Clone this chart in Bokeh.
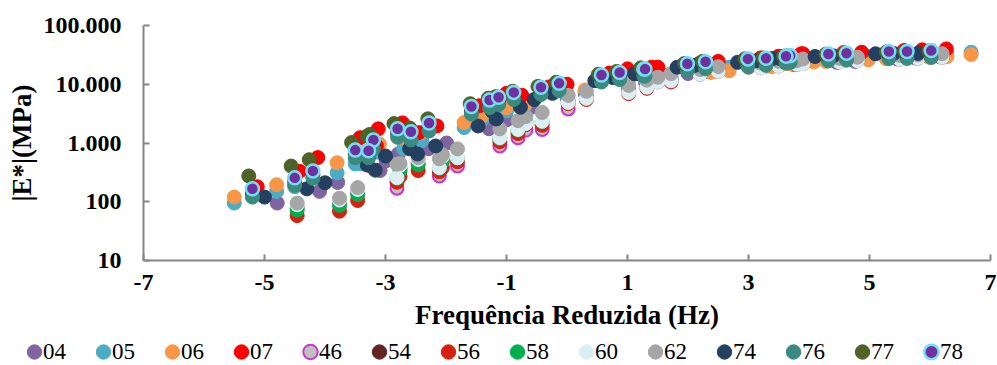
from bokeh.plotting import figure
from bokeh.models import ColumnDataSource, Range1d, FixedTicker, Legend, LegendItem
from bokeh.embed import file_html
from bokeh.resources import INLINE

# ---------------- data ----------------
SERIES = ["04", "05", "06", "07", "46", "54", "56", "58", "60", "62", "74", "76", "77", "78"]

X04 = [-4.79, -4.09, -3.79, -3.09, -2.79, -2.39, -2.99, -2.29, -1.99, -1.29, -0.99, -0.59,
       -0.70, 0.00, 0.30, 1.00, 1.30, 1.70, 1.30, 2.00, 2.30, 3.00, 3.30, 3.70,
       3.76, 4.46, 4.76, 5.46, 5.76, 6.16]
Y04 = [95, 150, 213, 340, 650, 890, 500, 800, 1000, 1750, 2500, 4060,
       3500, 6000, 7000, 10000, 10800, 13000, 10800, 15200, 16500, 19500, 20500, 22500,
       21500, 23600, 24500, 27000, 28000, 29500]

X05 = [-5.50, -4.80, -4.50, -3.80, -3.50, -3.10, -3.40, -2.70, -2.40, -1.70, -1.40, -1.00,
       -0.70, 0.00, 0.30, 1.00, 1.30, 1.70, 1.68, 2.38, 2.68, 3.38, 3.68, 4.08,
       4.28, 4.98, 5.28, 5.98, 6.28, 6.68]
Y05 = [95, 150, 180, 310, 440, 690, 440, 800, 1100, 1830, 2500, 3500,
       4000, 6500, 7500, 11000, 12500, 14500, 14500, 18000, 19500, 23000, 24500, 27000,
       27000, 29500, 30500, 32500, 33000, 35000]

X06 = [-5.50, -4.80, -4.50, -3.80, -3.50, -3.10, -3.40, -2.70, -2.40, -1.70, -1.40, -1.00,
       -0.70, 0.00, 0.30, 1.00, 1.30, 1.70, 1.68, 2.38, 2.68, 3.38, 3.68, 4.08,
       4.28, 4.98, 5.28, 5.98, 6.28, 6.68]
Y06 = [120, 195, 250, 460, 700, 960, 700, 1200, 1500, 2230, 2900, 4000,
       4500, 7000, 8000, 11000, 12000, 13500, 13500, 15900, 17000, 20000, 22200, 24000,
       24500, 26000, 27000, 29000, 29500, 32000]

X07 = [-5.12, -4.42, -4.12, -3.42, -3.12, -2.72, -3.15, -2.45, -2.15, -1.45, -1.15, -0.75,
       -1.00, -0.30, 0.00, 0.70, 1.00, 1.40, 1.50, 2.20, 2.50, 3.20, 3.50, 3.90,
       3.87, 4.57, 4.87, 5.57, 5.87, 6.27]
Y07 = [180, 330, 565, 1230, 1740, 2200, 900, 1500, 1950, 4300, 5500, 6500,
       7000, 9000, 10000, 15500, 18300, 19500, 19500, 23000, 24500, 28000, 30000, 33000,
       33000, 34500, 35000, 37500, 38500, 40000]

X_SOFT = [-4.46, -3.76, -3.46, -2.76, -2.46, -2.06, -2.81, -2.11, -1.81, -1.11, -0.81, -0.41,
          -0.68, 0.02, 0.32, 1.02, 1.32, 1.72, 1.50, 2.20, 2.50, 3.20, 3.50, 3.90,
          3.80, 4.50, 4.80, 5.50, 5.80, 6.20]
Y46 = [79, 95, 145, 372, 468, 525, 170, 275, 407, 891, 1230, 1700,
       1660, 3800, 6300, 8300, 10000, 13200, 11750, 15850, 17780, 20420, 21880, 23990,
       22910, 25120, 26300, 28180, 28840, 30200]
Y56 = [58, 69, 105, 269, 339, 380, 214, 324, 479, 1050, 1445, 2000,
       2040, 4680, 5500, 6920, 8510, 10960, 10960, 14790, 16600, 19050, 20420, 22390,
       21880, 23990, 25120, 26920, 27540, 28840]
Y58 = [72, 87, 132, 339, 427, 479, 250, 372, 550, 1200, 1660, 2290,
       2240, 5130, 6030, 7590, 9330, 12020, 11480, 15490, 17380, 19950, 21380, 23440,
       22390, 24550, 25700, 27540, 28180, 29510]
Y60 = [89, 107, 162, 417, 525, 589, 257, 380, 562, 1230, 1700, 2340,
       2140, 4900, 5750, 7240, 8910, 11480, 10960, 14790, 16600, 19050, 20420, 22390,
       21880, 23990, 25120, 26920, 27540, 28840]
Y62 = [95, 115, 174, 447, 562, 631, 437, 537, 794, 1740, 2400, 3310,
       2820, 6460, 7590, 9550, 11750, 15140, 13180, 17780, 19950, 22910, 24550, 26920,
       25120, 27540, 28840, 30900, 31620, 33110]

X74 = [-5.00, -4.30, -4.00, -3.30, -3.00, -2.60, -3.17, -2.47, -2.17, -1.47, -1.17, -0.77,
       -1.24, -0.54, -0.24, 0.46, 0.76, 1.16, 1.12, 1.82, 2.12, 2.82, 3.12, 3.52,
       3.40, 4.10, 4.40, 5.10, 5.40, 5.80]
Y74 = [120, 166, 210, 420, 600, 800, 345, 650, 890, 1950, 2560, 4060,
       3500, 5500, 7000, 11500, 13000, 15200, 15000, 19500, 21000, 23600, 25000, 27500,
       27500, 29600, 30500, 33000, 33500, 33500]

X78 = [-5.20, -4.50, -4.20, -3.50, -3.20, -2.80, -3.28, -2.58, -2.28, -1.58, -1.28, -0.88,
       -1.13, -0.43, -0.13, 0.57, 0.87, 1.27, 1.29, 1.99, 2.29, 2.99, 3.29, 3.69,
       3.62, 4.32, 4.62, 5.32, 5.62, 6.02]
Y78 = [166, 255, 335, 757, 1122, 1746, 736, 1549, 2190, 4170, 5380, 7270,
       6000, 8900, 10350, 14400, 15900, 18100, 18100, 22300, 24100, 27000, 27700, 30800,
       29900, 32800, 33700, 36000, 36000, 37400]
Y54 = [141, 217, 285, 643, 954, 1484, 626, 1317, 1862, 3545, 4573, 6180,
       5100, 7565, 8800, 12240, 13500, 15400, 15400, 18950, 20500, 22950, 23550, 26200,
       25400, 27900, 28650, 30600, 30600, 31800]
Y76 = [120, 190, 250, 560, 800, 1250, 560, 1130, 1600, 3100, 4000, 5500,
       4500, 6700, 7800, 10900, 12000, 13800, 13800, 17000, 18300, 20500, 21000, 23500,
       22800, 25000, 25700, 27400, 27500, 28500]

X77 = [-5.26, -4.56, -4.26, -3.56, -3.26, -2.86, -3.30, -2.60, -2.30, -1.60, -1.30, -0.90,
       -1.18, -0.48, -0.18, 0.52, 0.82, 1.22, 1.24, 1.94, 2.24, 2.94, 3.24, 3.64,
       3.58, 4.28, 4.58, 5.28, 5.58, 5.98]
Y77 = [275, 405, 520, 1020, 1400, 2140, 1320, 1800, 2580, 4660, 5800, 7600,
       6150, 9200, 10800, 14800, 16500, 19000, 18500, 22500, 24500, 27000, 28000, 30500,
       30000, 32500, 33500, 35500, 36000, 37000]

X_TICKS = [-7, -5, -3, -1, 1, 3, 5, 7]
X_TICK_LABELS = ["-7", "-5", "-3", "-1", "1", "3", "5", "7"]
Y_TICKS = [10, 100, 1000, 10000, 100000]
Y_TICK_LABELS = ["10", "100", "1.000", "10.000", "100.000"]

DATA = {
    "04": (X04, Y04), "05": (X05, Y05), "06": (X06, Y06), "07": (X07, Y07),
    "46": (X_SOFT, Y46), "54": (X78, Y54), "56": (X_SOFT, Y56), "58": (X_SOFT, Y58),
    "60": (X_SOFT, Y60), "62": (X_SOFT, Y62), "74": (X74, Y74), "76": (X78, Y76),
    "77": (X77, Y77), "78": (X78, Y78),
}

# ---------------- styles ----------------
FILL = {"04": "#8064A2", "05": "#4BACC6", "06": "#F79646", "07": "#FF0000",
        "46": "#C0C0C0", "54": "#632523", "56": "#D7200F", "58": "#00B050",
        "60": "#DBEEF4", "62": "#A6A6A6", "74": "#243F60", "76": "#3B8A7F",
        "77": "#4F6228", "78": "#7030A0"}
LINE = dict(FILL)
LINE["46"] = "#CC33CC"
LINE["78"] = "#74DEF2"
LW = {k: 1 for k in SERIES}
LW["46"] = 2
LW["78"] = 2.5
SIZE = {k: 14 for k in SERIES}
SIZE["46"] = 13
SIZE["78"] = 13

FONT = "Liberation Serif"
AXIS_COLOR = "#868686"

p = figure(width=997, height=338, x_range=Range1d(-7, 7), y_range=Range1d(10, 100000),
           y_axis_type="log", output_backend="svg", toolbar_location=None,
           min_border_left=143, min_border_right=7, min_border_top=25, min_border_bottom=78)
p.outline_line_color = None
p.grid.visible = False

sources = {}
for k in SERIES:
    xs, ys = DATA[k]
    sources[k] = ColumnDataSource(dict(x=xs, y=ys))
    p.scatter("x", "y", source=sources[k], size=SIZE[k], fill_color=FILL[k],
              line_color=LINE[k], line_width=LW[k])

for ax in (p.xaxis[0], p.yaxis[0]):
    ax.axis_line_color = AXIS_COLOR
    ax.axis_line_width = 2
    ax.major_tick_line_color = AXIS_COLOR
    ax.major_tick_line_width = 2
    ax.major_tick_in = 6
    ax.major_tick_out = 0
    ax.minor_tick_line_color = None
    ax.major_label_text_font = FONT
    ax.major_label_text_font_style = "bold"
    ax.major_label_text_font_size = "24px"
    ax.major_label_text_color = "black"
    ax.axis_label_text_font = FONT
    ax.axis_label_text_font_style = "bold"
    ax.axis_label_text_font_size = "27px"
    ax.axis_label_text_color = "black"

p.xaxis.ticker = FixedTicker(ticks=X_TICKS)
p.xaxis.major_label_overrides = {t: l for t, l in zip(X_TICKS, X_TICK_LABELS)}
p.yaxis.ticker = FixedTicker(ticks=Y_TICKS)
p.yaxis.major_label_overrides = {t: l for t, l in zip(Y_TICKS, Y_TICK_LABELS)}
p.xaxis.axis_label = "Frequência Reduzida (Hz)"
p.yaxis.axis_label = "|E*|(MPa)"
p.xaxis.major_label_standoff = 14
p.xaxis.axis_label_standoff = 7
p.yaxis.major_label_standoff = 22
p.yaxis.axis_label_standoff = 4

# ---------------- legend row (own figure, same series styles) ----------------
pl = figure(width=997, height=27, x_range=Range1d(0, 1), y_range=Range1d(0, 1),
            x_axis_type=None, y_axis_type=None, output_backend="svg",
            toolbar_location=None, min_border=0)
pl.outline_line_color = None
items = []
for k in SERIES:
    r = pl.ellipse("x", "y", source=sources[k], width=SIZE[k], height=SIZE[k],
                   width_units="screen", height_units="screen", fill_color=FILL[k],
                   line_color=LINE[k], line_width=LW[k])
    items.append(LegendItem(label=k, renderers=[r]))

legend = Legend(items=items, orientation="horizontal", location=(25, 0),
                glyph_width=18, glyph_height=27, label_height=27, label_standoff=0,
                label_width=24, spacing=27, padding=0, margin=0, border_line_alpha=0,
                background_fill_alpha=0, label_text_font=FONT,
                label_text_font_size="23px", label_text_color="black")
pl.add_layout(legend, "center")

open("out.html", "w").write(file_html([p, pl], INLINE))
